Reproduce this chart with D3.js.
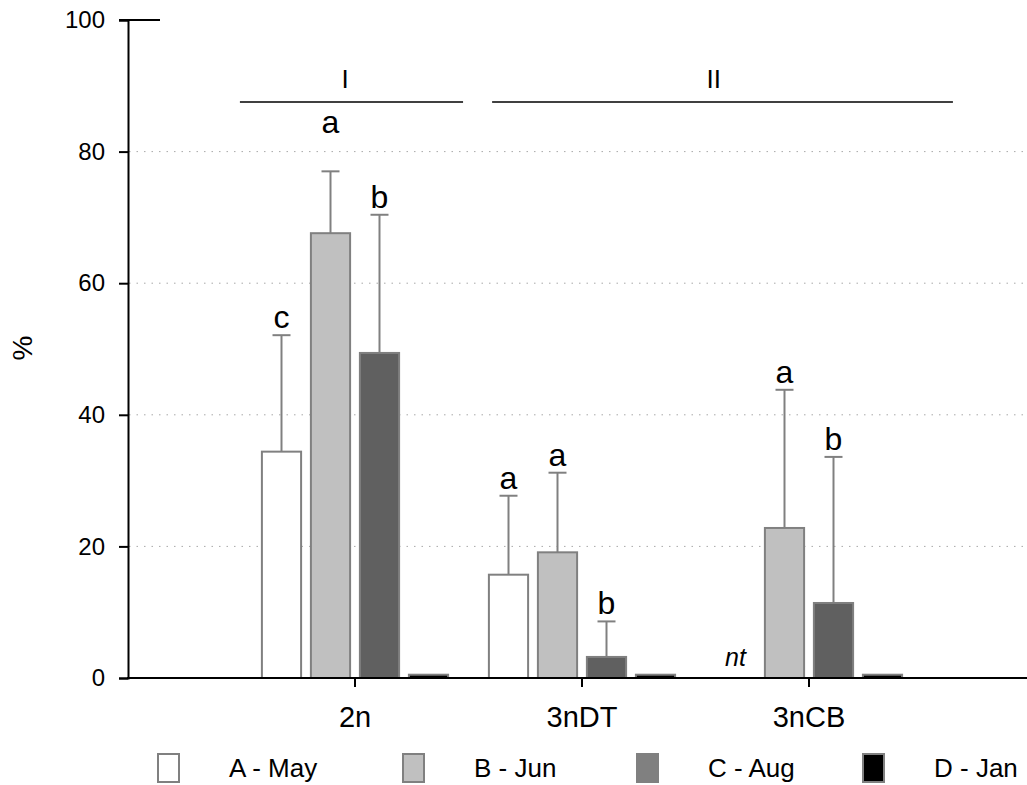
<!DOCTYPE html>
<html>
<head>
<meta charset="utf-8">
<script src="https://cdn.jsdelivr.net/npm/d3@7/dist/d3.min.js"></script>
<style>
  html, body { margin: 0; padding: 0; background: #fff; }
  svg { display: block; font-family: "Liberation Sans", Arial, sans-serif; }
</style>
</head>
<body>
<svg id="chart" width="1027" height="785"></svg>
<script>
// ---- data ----
const categories = ["2n", "3nDT", "3nCB"];
const seriesNames = ["A - May", "B - Jun", "C - Aug", "D - Jan"];
const valuesMay = [34.4, 15.7, null];
const valuesJun = [67.6, 19.1, 22.8];
const valuesAug = [49.4, 3.2, 11.4];
const valuesJan = [0.5, 0.5, 0.5];
const errMay = [52.1, 27.7, null];
const errJun = [77.0, 31.2, 43.8];
const errAug = [70.4, 8.6, 33.6];
const errJan = [null, null, null];
const lettersMay = ["c", "a", ""];
const lettersJun = ["a", "a", "a"];
const lettersAug = ["b", "b", "b"];
const lettersJan = ["", "", ""];
const yTicks = [0, 20, 40, 60, 80, 100];
const groupLabels = ["I", "II"];

const barFill = ["#ffffff", "#c0c0c0", "#606060", "#000000"];
const legendFill = ["#ffffff", "#c0c0c0", "#808080", "#000000"];

const values = [valuesMay, valuesJun, valuesAug, valuesJan];
const errs = [errMay, errJun, errAug, errJan];
const letters = [lettersMay, lettersJun, lettersAug, lettersJan];

const svg = d3.select("#chart");
const FONT = "'Liberation Sans', Arial, sans-serif";

const y = d3.scaleLinear().domain([0, 100]).range([678, 20]);
const x = d3.scaleBand().domain(categories).range([241.5, 922.5]).padding(0);
const xs = d3.scaleBand().domain(seriesNames)
  .range([x.bandwidth() / 2 - 98, x.bandwidth() / 2 + 98])
  .paddingInner(0.2).paddingOuter(0.1);
// category index scale for group annotations
const xi = d3.scaleLinear().domain([0, 1]).range([x("2n") + x.bandwidth() / 2, x("3nDT") + x.bandwidth() / 2]);

// grid
svg.append("g").selectAll("line").data(yTicks.filter(t => t > 0 && t < 100)).join("line")
  .attr("x1", 129).attr("x2", 1027)
  .attr("y1", d => y(d)).attr("y2", d => y(d))
  .attr("stroke", "#a8a8a8").attr("stroke-width", 1)
  .attr("stroke-dasharray", "1.5,6");

// y axis
const yAxis = svg.append("g").attr("transform", "translate(128,0)")
  .call(d3.axisLeft(y).tickValues(yTicks).tickSize(9).tickPadding(14));
yAxis.select(".domain").attr("stroke", "#000").attr("stroke-width", 2);
yAxis.selectAll(".tick line").attr("stroke", "#000").attr("stroke-width", 2);
yAxis.selectAll(".tick text").attr("font-size", 24).attr("font-family", FONT).attr("fill", "#000");
// top line at 100
svg.append("line").attr("x1", 119).attr("x2", 160).attr("y1", y(100)).attr("y2", y(100))
  .attr("stroke", "#000").attr("stroke-width", 2);

// bars
const flat = [];
categories.forEach((c, ci) => {
  seriesNames.forEach((s, si) => {
    flat.push({c, s, si, v: values[si][ci], e: errs[si][ci], l: letters[si][ci]});
  });
});

const g = svg.append("g");
const bx = d => x(d.c) + xs(d.s);
const bw = xs.bandwidth();

// error bars (behind bars)
const withErr = flat.filter(d => d.v != null && d.e != null);
g.selectAll("line.err").data(withErr).join("line").attr("class", "err")
  .attr("x1", d => bx(d) + bw / 2).attr("x2", d => bx(d) + bw / 2)
  .attr("y1", d => y(d.v)).attr("y2", d => y(d.e))
  .attr("stroke", "#808080").attr("stroke-width", 2);
g.selectAll("line.cap").data(withErr).join("line").attr("class", "cap")
  .attr("x1", d => bx(d) + bw / 2 - 9).attr("x2", d => bx(d) + bw / 2 + 9)
  .attr("y1", d => y(d.e)).attr("y2", d => y(d.e))
  .attr("stroke", "#808080").attr("stroke-width", 2);

g.selectAll("rect.bar").data(flat.filter(d => d.v != null)).join("rect").attr("class", "bar")
  .attr("x", d => bx(d)).attr("width", bw)
  .attr("y", d => y(d.v)).attr("height", d => y(0) - y(d.v))
  .attr("fill", d => barFill[d.si]).attr("stroke", "#808080").attr("stroke-width", 2);

// letters
g.selectAll("text.letter").data(flat.filter(d => d.l)).join("text").attr("class", "letter")
  .attr("x", d => bx(d) + bw / 2)
  .attr("y", d => y(d.e) - (d.c === "2n" && d.si === 1 ? 38 : 7))
  .attr("text-anchor", "middle").attr("font-size", 32).attr("font-family", FONT).text(d => d.l);

// nt
flat.filter(d => d.v == null).forEach(d => {
  g.append("text").attr("x", bx(d) + bw / 2).attr("y", 666)
    .attr("text-anchor", "middle").attr("font-size", 25).attr("font-style", "italic")
    .attr("font-family", FONT).text("nt");
});

// x axis
const xAxis = svg.append("g").attr("transform", `translate(0,${y(0)})`)
  .call(d3.axisBottom(x).tickSize(9).tickPadding(19));
xAxis.select(".domain").remove();
xAxis.selectAll(".tick line").attr("stroke", "#000").attr("stroke-width", 2);
xAxis.selectAll(".tick text").attr("font-size", 29).attr("font-family", FONT).attr("fill", "#000");
svg.append("line").attr("x1", 127).attr("x2", 1027).attr("y1", y(0)).attr("y2", y(0))
  .attr("stroke", "#000").attr("stroke-width", 2);

// group annotations
const groups = [
  {label: groupLabels[0], from: -0.507, to: 0.476, at: -0.044},
  {label: groupLabels[1], from: 0.604, to: 2.634, at: 1.58}
];
groups.forEach(gr => {
  svg.append("line").attr("x1", xi(gr.from)).attr("x2", xi(gr.to)).attr("y1", 102).attr("y2", 102)
    .attr("stroke", "#000").attr("stroke-width", 1.5);
  svg.append("text").attr("x", xi(gr.at)).attr("y", 88).attr("text-anchor", "middle")
    .attr("font-size", 26).attr("font-family", FONT).text(gr.label);
});

// y label
svg.append("text").attr("transform", "translate(32,348) rotate(-90)")
  .attr("text-anchor", "middle").attr("font-size", 28).attr("font-family", FONT).text("%");

// legend
const legendX = [157, 402, 636, 862];
const leg = svg.append("g").selectAll("g").data(seriesNames).join("g")
  .attr("transform", (d, i) => `translate(${legendX[i]},754)`);
leg.append("rect").attr("x", 1).attr("y", 0).attr("width", 21).attr("height", 28)
  .attr("fill", (d, i) => legendFill[i])
  .attr("stroke", "#808080").attr("stroke-width", 2);
leg.append("text").attr("x", 72).attr("y", 23).attr("font-size", 26).attr("font-family", FONT)
  .text(d => d);
</script>
</body>
</html>
